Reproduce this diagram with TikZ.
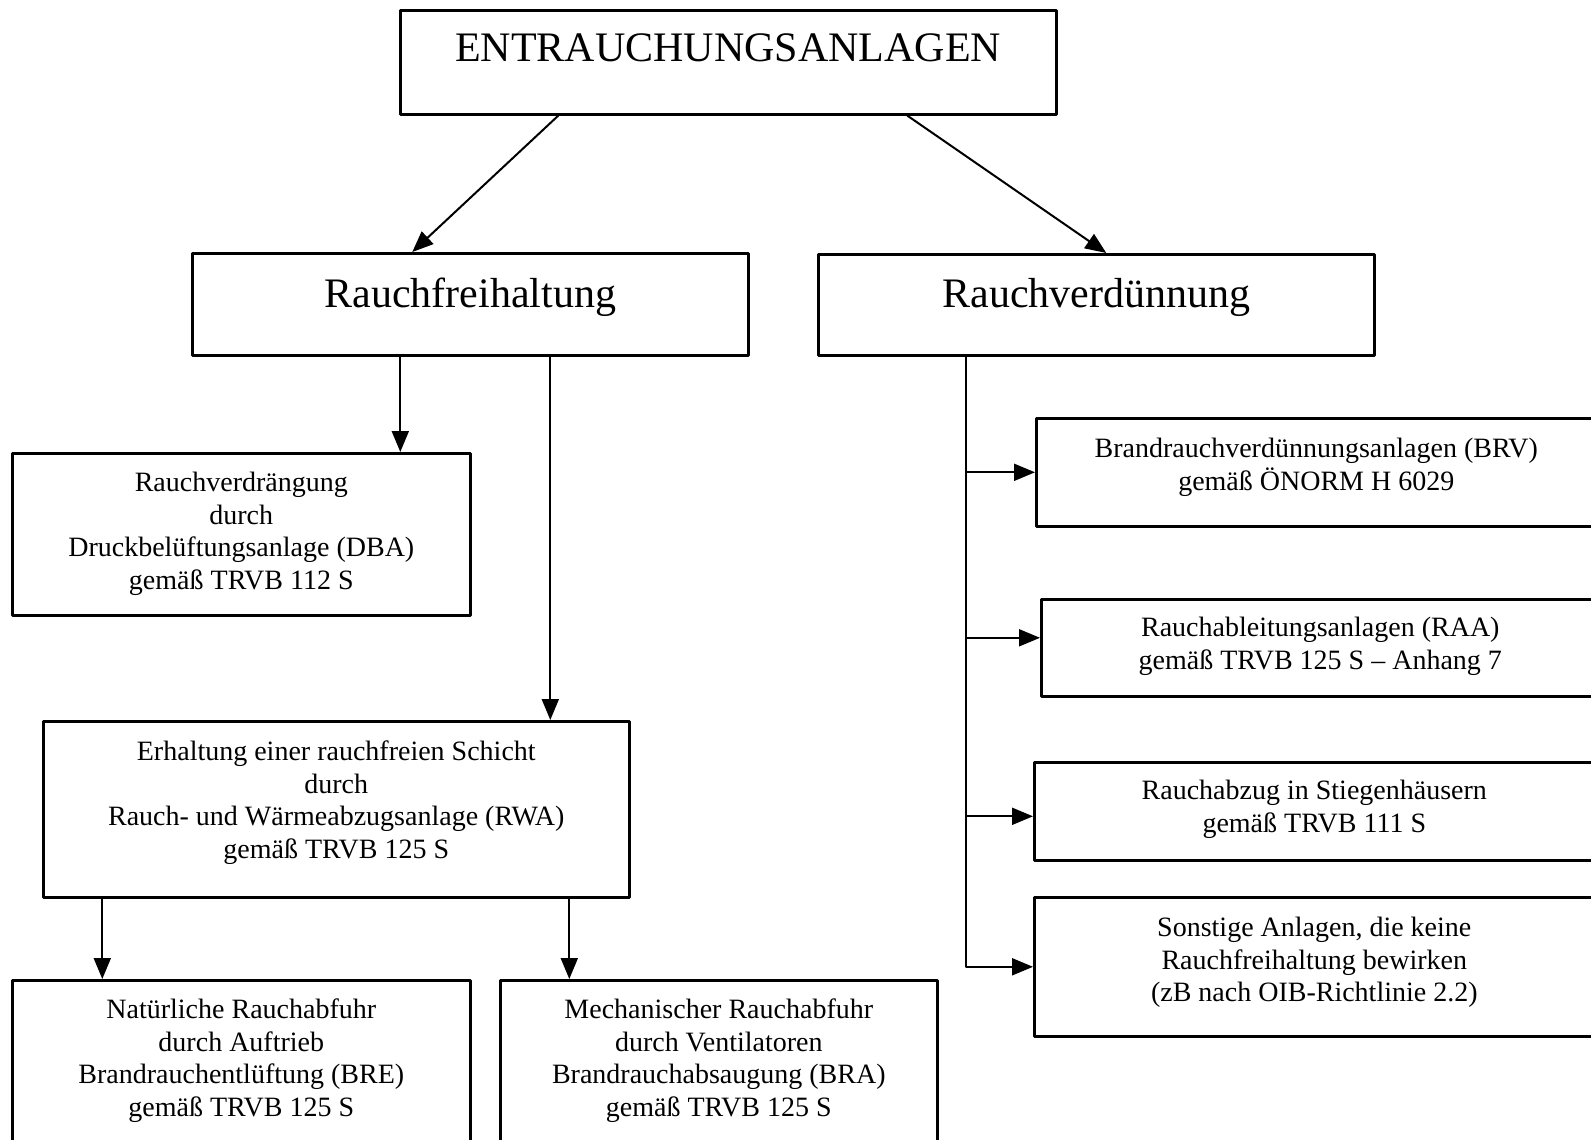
\documentclass[tikz,border=0pt]{standalone}
\usepackage{fontspec}
\setmainfont{Liberation Serif}
\usetikzlibrary{arrows.meta}
\begin{document}
\begin{tikzpicture}[x=1pt, y=-1pt, line join=round, >={Triangle[length=21pt,width=17pt]},
	box/.style={draw, line width=2.6pt, inner sep=0pt, anchor=north west},
	head/.style={anchor=base, inner sep=0pt, font=\fontsize{42}{48}\selectfont},
	txt/.style={anchor=north, align=center, inner sep=0pt, font=\fontsize{28}{32.5}\selectfont},
	arr/.style={->, line width=2pt}]
	\useasboundingbox (0,0) rectangle (1591,1140);
	\clip (0,0) rectangle (1591,1140);
	% Kästen
	\node[box, minimum width=656pt, minimum height=104pt] (top) at (399,9) {};
	\node[box, minimum width=556pt, minimum height=102pt] (rf) at (191,252) {};
	\node[box, minimum width=556pt, minimum height=101pt] (rv) at (817,253) {};
	\node[box, minimum width=458pt, minimum height=162pt] (dba) at (11,452) {};
	\node[box, minimum width=586pt, minimum height=176pt] (rwa) at (42,720) {};
	\node[box, minimum width=458pt, minimum height=200pt] (bre) at (11,979) {};
	\node[box, minimum width=437pt, minimum height=200pt] (bra) at (499,979) {};
	\node[box, minimum width=560pt, minimum height=108pt] (brv) at (1035,417) {};
	\node[box, minimum width=558pt, minimum height=97pt] (raa) at (1040,598) {};
	\node[box, minimum width=560pt, minimum height=98pt] (rst) at (1033,761) {};
	\node[box, minimum width=560pt, minimum height=139pt] (son) at (1033,896) {};
	% Texte
	\node[head] (topT) at ([yshift=-53pt]top.north) {ENTRAUCHUNGSANLAGEN};
	\node[head] (rfT) at ([yshift=-55pt]rf.north) {Rauchfreihaltung};
	\node[head] (rvT) at ([yshift=-54pt]rv.north) {Rauchverdünnung};
	\node[txt] (dbaT) at ([yshift=-20pt]dba.north) {Rauchverdrängung\\durch\\Druckbelüftungsanlage (DBA)\\gemäß TRVB 112 S};
	\node[txt] (rwaT) at ([yshift=-21pt]rwa.north) {Erhaltung einer rauchfreien Schicht\\durch\\Rauch- und Wärmeabzugsanlage (RWA)\\gemäß TRVB 125 S};
	\node[txt] (breT) at ([yshift=-20pt]bre.north) {Natürliche Rauchabfuhr\\durch Auftrieb\\Brandrauchentlüftung (BRE)\\gemäß TRVB 125 S};
	\node[txt] (braT) at ([yshift=-20pt]bra.north) {Mechanischer Rauchabfuhr\\durch Ventilatoren\\Brandrauchabsaugung (BRA)\\gemäß TRVB 125 S};
	\node[txt] (brvT) at ([yshift=-21pt]brv.north) {Brandrauchverdünnungsanlagen (BRV)\\gemäß ÖNORM H 6029};
	\node[txt] (raaT) at ([yshift=-19pt]raa.north) {Rauchableitungsanlagen (RAA)\\gemäß TRVB 125 S -- Anhang 7};
	\node[txt] (rstT) at ([yshift=-19pt]rst.north) {Rauchabzug in Stiegenhäusern\\gemäß TRVB 111 S};
	\node[txt] (sonT) at ([yshift=-21pt]son.north) {Sonstige Anlagen, die keine\\Rauchfreihaltung bewirken\\(zB nach OIB-Richtlinie 2.2)};
	% Pfeile
	\draw[arr] ([xshift=-170pt]top.south) -- ([xshift=-58pt]rf.north);
	\draw[arr] ([xshift=179pt]top.south) -- ([xshift=10pt]rv.north);
	\draw[arr] ([xshift=-70pt]rf.south) -- ([xshift=-70pt]rf.south |- dba.north);
	\draw[arr] ([xshift=80pt]rf.south) -- ([xshift=80pt]rf.south |- rwa.north);
	\draw[arr] ([xshift=-234pt]rwa.south) -- ([xshift=-234pt]rwa.south |- bre.north);
	\draw[arr] ([xshift=233pt]rwa.south) -- ([xshift=233pt]rwa.south |- bra.north);
	\coordinate (trunk) at ([xshift=-130pt]rv.south);
	\draw[arr] (trunk) |- (son.west);
	\draw[arr] (trunk |- brv.west) -- (brv.west);
	\draw[arr] (trunk |- raa.west) ++(0,-10) -- ([yshift=10pt]raa.west);
	\draw[arr] (trunk |- rst.west) ++(0,5) -- ([yshift=-5pt]rst.west);
\end{tikzpicture}
\end{document}
